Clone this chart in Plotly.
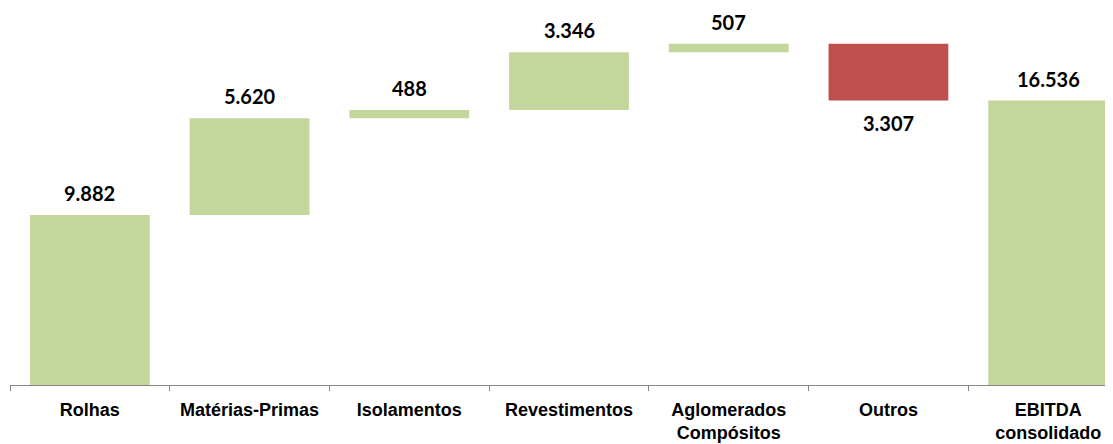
import plotly.graph_objects as go

categories = ["Rolhas", "Matérias-Primas", "Isolamentos", "Revestimentos",
              "Aglomerados<br>Compósitos", "Outros", "EBITDA<br>consolidado"]
values = [9882, 5620, 488, 3346, 507, -3307, 16536]
is_total = [False, False, False, False, False, False, True]

GREEN = "#C3D69B"
RED = "#C0504D"

bases, heights, colors = [], [], []
running = 0
for v, tot in zip(values, is_total):
    if tot:
        bases.append(0)
        heights.append(v)
        running = v
    else:
        bases.append(running)
        heights.append(v)
        running += v
    colors.append(RED if v < 0 else GREEN)

def fmt(v):
    return f"{abs(v):,}".replace(",", ".")

LABEL_FONT = dict(family="Lato, Open Sans, sans-serif", size=20, color="#000000", weight="bold")

fig = go.Figure()
fig.add_trace(go.Bar(
    x=categories, y=heights, base=bases,
    marker=dict(color=colors, line=dict(width=0)),
    width=0.75, hoverinfo="skip",
))

for c, b, h in zip(categories, bases, heights):
    if h >= 0:
        fig.add_annotation(x=c, y=b + h, text=fmt(h), showarrow=False,
                           yanchor="bottom", yshift=8, font=LABEL_FONT)
    else:
        fig.add_annotation(x=c, y=b + h, text=fmt(h), showarrow=False,
                           yanchor="top", yshift=-8, font=LABEL_FONT)

# page has an 8px body margin: figure occupies page x 8..1113, y 8..444
fig.update_layout(
    width=1105, height=436,
    margin=dict(l=2, r=0, t=0, b=59),
    paper_bgcolor="white", plot_bgcolor="white",
    showlegend=False,
    font=dict(family="Liberation Sans, Arial, sans-serif", size=18, color="#000000"),
)
fig.update_xaxes(
    type="category", range=[-0.5, 6.406],
    showline=True, linecolor="#868686", linewidth=1,
    ticks="outside", tickson="boundaries", ticklen=5, tickcolor="#868686",
    ticklabelstandoff=8,
    showgrid=False, zeroline=False,
    tickfont=dict(family="Liberation Sans, Arial, sans-serif",
                  size=18, color="#000000", weight="bold"),
)
fig.update_yaxes(range=[0, 21915], visible=False, showgrid=False, zeroline=False)

fig.write_html("out.html")
